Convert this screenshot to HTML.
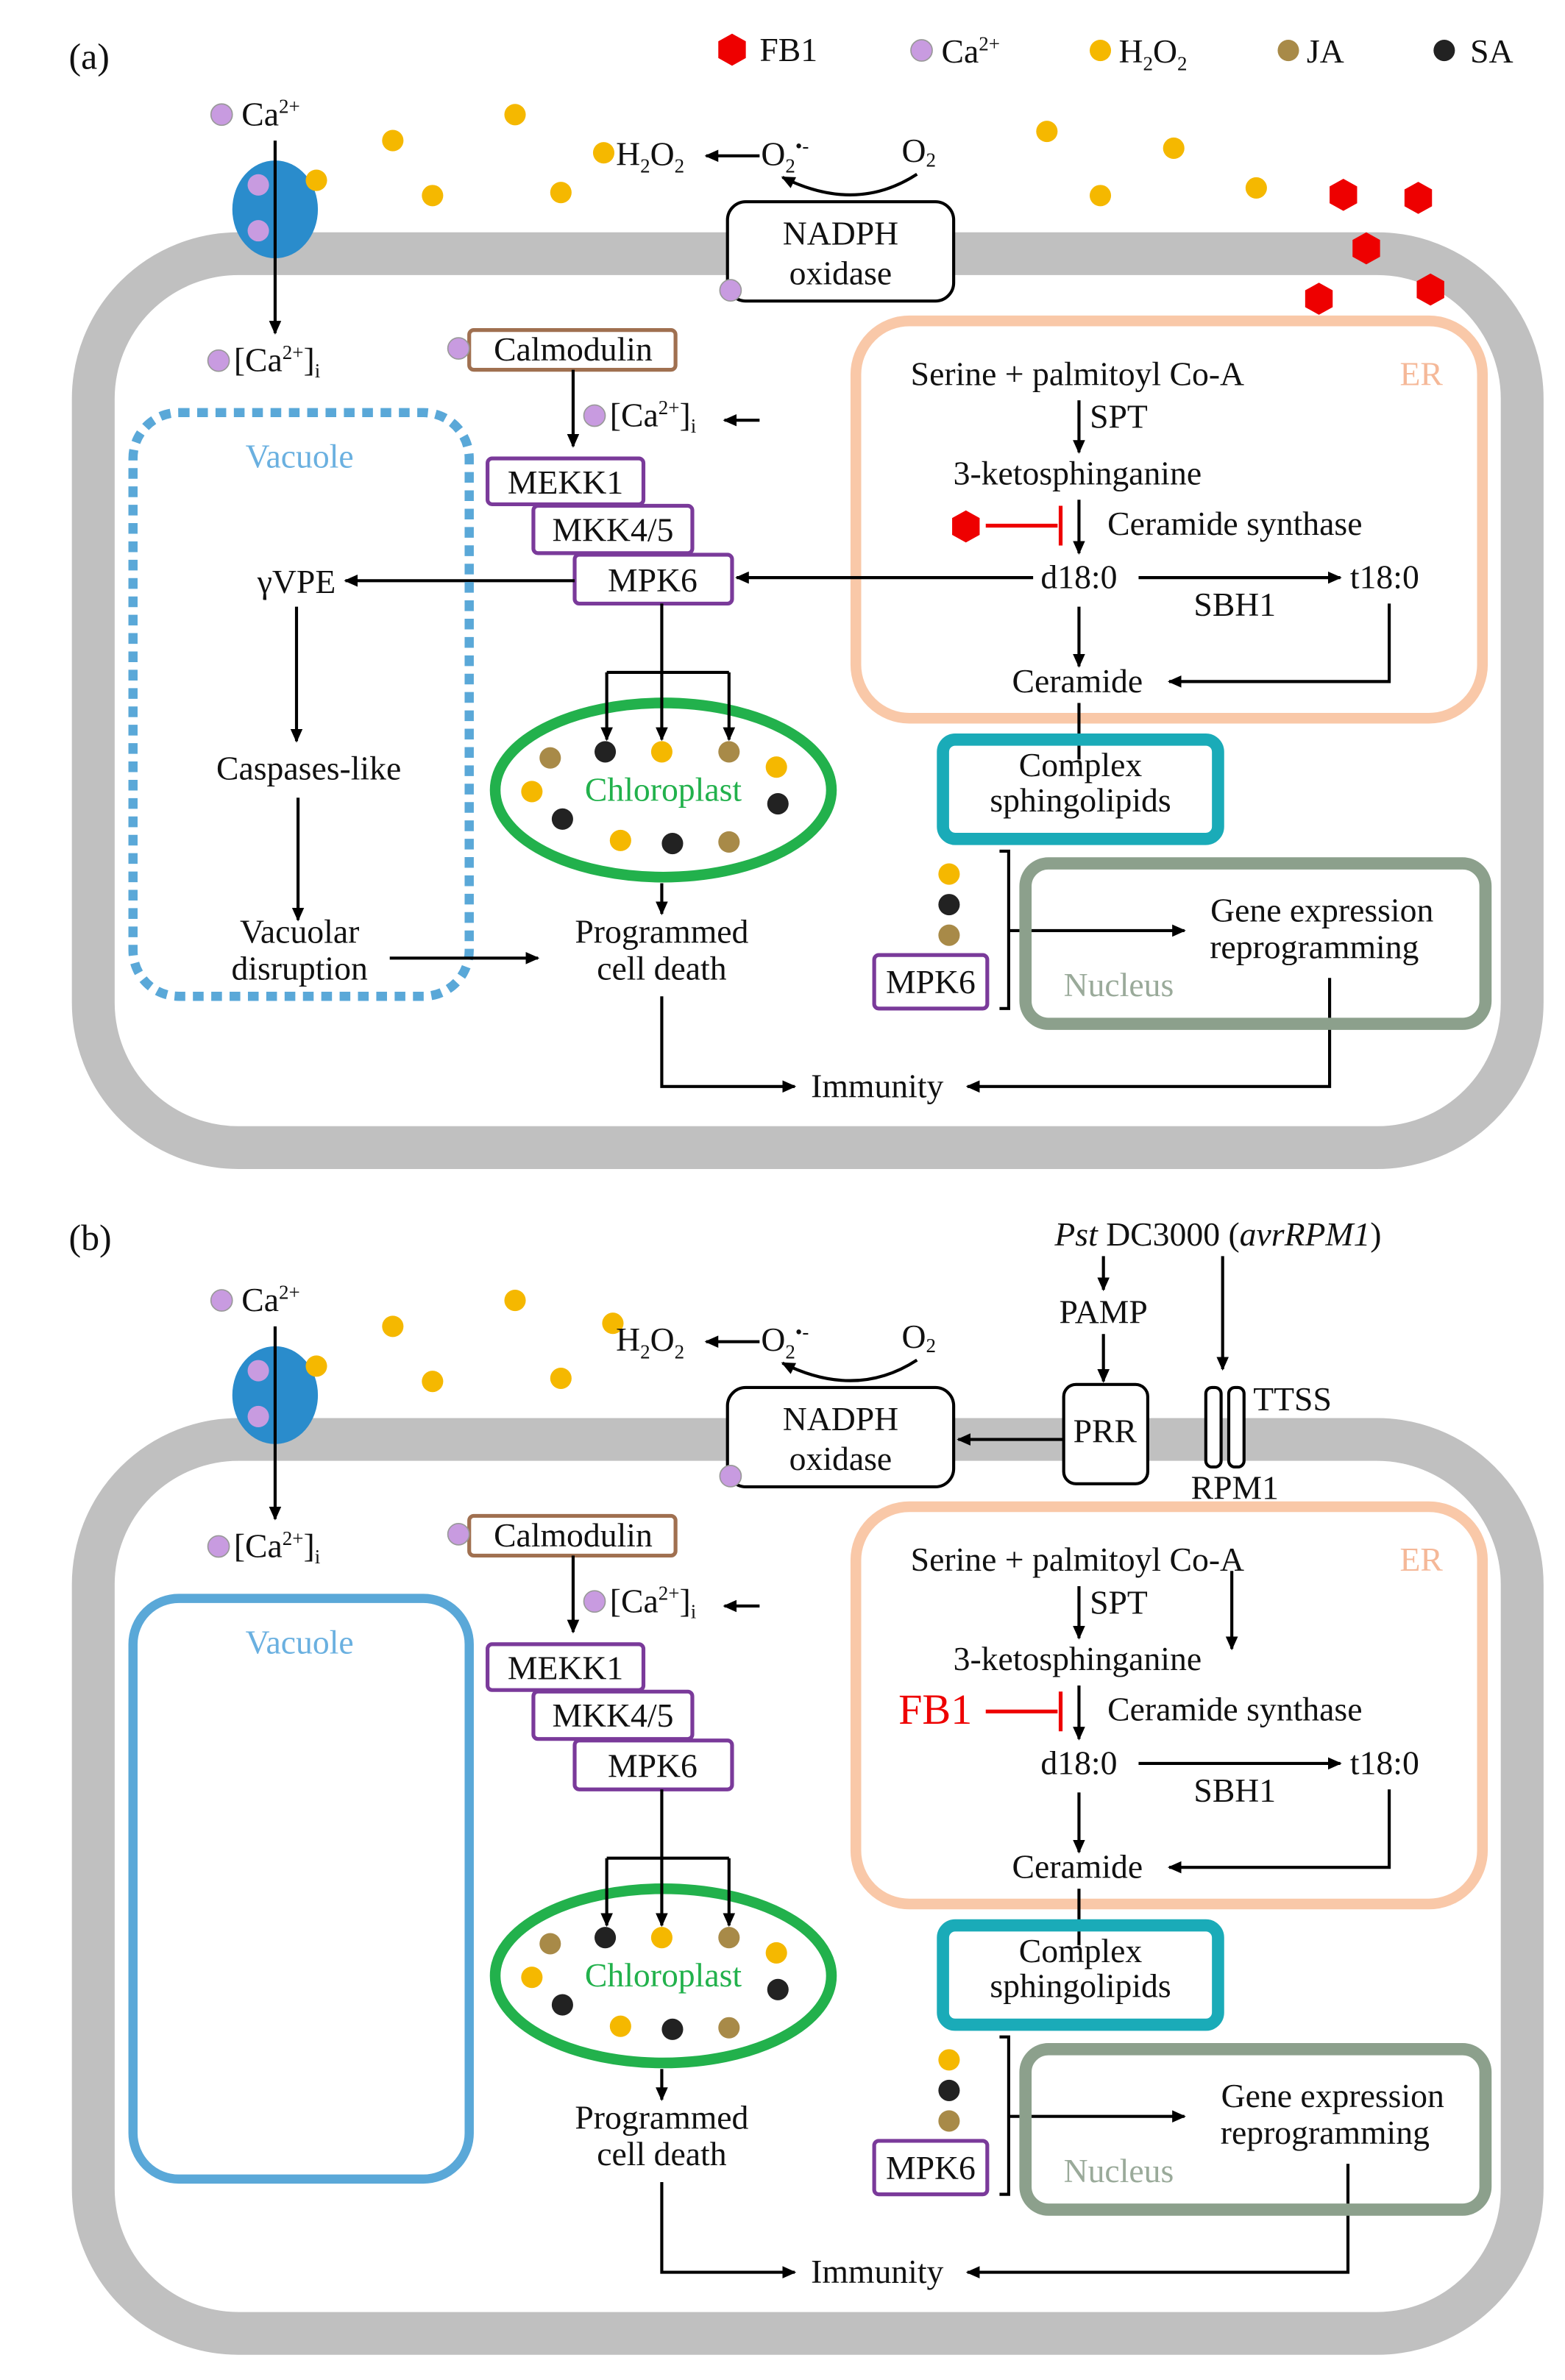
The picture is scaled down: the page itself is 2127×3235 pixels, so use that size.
<!DOCTYPE html>
<html><head><meta charset="utf-8"><style>
html,body{margin:0;padding:0;background:#fff}
svg{display:block}
text{font-family:"Liberation Serif",serif;font-size:22px;fill:#111}
.m{text-anchor:middle}
</style></head><body>
<svg width="2127" height="3235" viewBox="0 0 1024 1557.5" xmlns="http://www.w3.org/2000/svg">
<defs>
<marker id="ah" markerWidth="10" markerHeight="10" refX="8" refY="5" orient="auto" markerUnits="userSpaceOnUse"><path d="M0,1 L9,5 L0,9 Z" fill="#000"/></marker>
</defs>

<!-- ===== PANEL A ===== -->
<text x="45" y="45" font-size="24" style="font-size:24px">(a)</text>
<polygon points="479,22 488,27 488,38 479,43 470,38 470,27" fill="#e00"/>
<text x="497" y="40">FB1</text>
<circle cx="603" cy="33" r="7" fill="#c89be0" stroke="#999" stroke-width="0.8"/>
<text x="616" y="41">Ca<tspan font-size="13" dy="-8" style="font-size:13px">2+</tspan></text>
<circle cx="720" cy="33" r="7" fill="#f5b800"/>
<text x="732" y="41">H<tspan style="font-size:13px" dy="5">2</tspan><tspan dy="-5">O</tspan><tspan style="font-size:13px" dy="5">2</tspan></text>
<circle cx="843" cy="33" r="7" fill="#a88a48"/>
<text x="855" y="41">JA</text>
<circle cx="945" cy="33" r="7" fill="#222"/>
<text x="962" y="41">SA</text>

<g>
<rect x="61" y="166" width="935" height="585" rx="95" fill="#fff" stroke="#c0c0c0" stroke-width="28"/>
<circle cx="145" cy="75" r="7" fill="#c89be0" stroke="#999" stroke-width="0.8"/>
<text x="158" y="82">Ca<tspan style="font-size:13px" dy="-8">2+</tspan></text>
<ellipse cx="180" cy="137" rx="28" ry="32" fill="#2a8ccc"/>
<circle cx="169" cy="121" r="7" fill="#c89be0"/>
<circle cx="169" cy="151" r="7" fill="#c89be0"/>
<circle cx="207" cy="118" r="7" fill="#f5b800"/>
<line x1="180" y1="92" x2="180" y2="218" stroke="#000" stroke-width="2" marker-end="url(#ah)"/>
<circle cx="143" cy="236" r="7" fill="#c89be0" stroke="#999" stroke-width="0.8"/>
<text x="153" y="243">[Ca<tspan style="font-size:13px" dy="-8">2+</tspan><tspan dy="8">]</tspan><tspan style="font-size:13px" dy="4">i</tspan></text>
<g fill="#f5b800"><circle cx="257" cy="92" r="7"/><circle cx="337" cy="75" r="7"/><circle cx="283" cy="128" r="7"/><circle cx="367" cy="126" r="7"/><circle cx="395" cy="100" r="7"/></g>
<text x="403" y="108">H<tspan style="font-size:13px" dy="5">2</tspan><tspan dy="-5">O</tspan><tspan style="font-size:13px" dy="5">2</tspan></text>
<line x1="497" y1="102" x2="462" y2="102" stroke="#000" stroke-width="2" marker-end="url(#ah)"/>
<text x="498" y="108">O<tspan style="font-size:13px" dy="5">2</tspan><tspan style="font-size:13px" dy="-13">•-</tspan></text>
<text x="590" y="106">O<tspan style="font-size:13px" dy="3">2</tspan></text>
<path d="M600,114 Q560,140 512,116" fill="none" stroke="#000" stroke-width="2" marker-end="url(#ah)"/>
<rect x="476" y="132" width="148" height="65" rx="12" fill="#fff" stroke="#000" stroke-width="2"/>
<text x="550" y="160" class="m">NADPH</text><text x="550" y="186" class="m">oxidase</text>
<circle cx="478" cy="190" r="7" fill="#c89be0" stroke="#999" stroke-width="0.8"/>
<rect x="307" y="216" width="135" height="26" rx="3" fill="#fff" stroke="#a07050" stroke-width="2.5"/>
<circle cx="300" cy="228" r="7" fill="#c89be0" stroke="#999" stroke-width="0.8"/>
<text x="375" y="236" class="m">Calmodulin</text>
<line x1="375" y1="242" x2="375" y2="292" stroke="#000" stroke-width="2" marker-end="url(#ah)"/>
<circle cx="389" cy="272" r="7" fill="#c89be0" stroke="#999" stroke-width="0.8"/>
<text x="399" y="279">[Ca<tspan style="font-size:13px" dy="-8">2+</tspan><tspan dy="8">]</tspan><tspan style="font-size:13px" dy="4">i</tspan></text>
<line x1="497" y1="275" x2="474" y2="275" stroke="#000" stroke-width="2" marker-end="url(#ah)"/>
<g fill="#fff" stroke="#7a3a9a" stroke-width="2.5">
<rect x="319" y="300" width="102" height="30" rx="3"/><rect x="349" y="331" width="104" height="31" rx="3"/><rect x="376" y="363" width="103" height="32" rx="3"/></g>
<text x="370" y="323" class="m">MEKK1</text><text x="401" y="354" class="m">MKK4/5</text><text x="427" y="387" class="m">MPK6</text>
<ellipse cx="434" cy="517" rx="110" ry="57" fill="#fff" stroke="#22b14c" stroke-width="7"/>
<path d="M433,395 V440 M397,440 H477" stroke="#000" stroke-width="2" fill="none"/>
<g stroke="#000" stroke-width="2" marker-end="url(#ah)"><line x1="397" y1="440" x2="397" y2="484"/><line x1="433" y1="440" x2="433" y2="484"/><line x1="477" y1="440" x2="477" y2="484"/></g>
<circle cx="360" cy="496" r="7" fill="#a88a48"/><circle cx="396" cy="492" r="7" fill="#222"/><circle cx="433" cy="492" r="7" fill="#f5b800"/><circle cx="477" cy="492" r="7" fill="#a88a48"/><circle cx="508" cy="502" r="7" fill="#f5b800"/><circle cx="348" cy="518" r="7" fill="#f5b800"/><circle cx="509" cy="526" r="7" fill="#222"/><circle cx="368" cy="536" r="7" fill="#222"/><circle cx="406" cy="550" r="7" fill="#f5b800"/><circle cx="440" cy="552" r="7" fill="#222"/><circle cx="477" cy="551" r="7" fill="#a88a48"/>
<text x="434" y="524" class="m" style="fill:#22b14c">Chloroplast</text>
<line x1="433" y1="578" x2="433" y2="598" stroke="#000" stroke-width="2" marker-end="url(#ah)"/>
<text x="433" y="617" class="m">Programmed</text><text x="433" y="641" class="m">cell death</text>
<path d="M433,652 V711 H520" fill="none" stroke="#000" stroke-width="2" marker-end="url(#ah)"/>
<text x="574" y="718" class="m">Immunity</text>
<path d="M870,640 V711 H633" fill="none" stroke="#000" stroke-width="2" marker-end="url(#ah)"/>
<rect x="560" y="210" width="410" height="260" rx="35" fill="none" stroke="#f9c8a8" stroke-width="7"/>
<text x="930" y="252" class="m" style="fill:#f5b898">ER</text>
<text x="705" y="252" class="m">Serine + palmitoyl  Co-A</text>
<line x1="706" y1="262" x2="706" y2="296" stroke="#000" stroke-width="2" marker-end="url(#ah)"/>
<text x="732" y="280" class="m">SPT</text>
<text x="705" y="317" class="m">3-ketosphinganine</text>
<line x1="706" y1="327" x2="706" y2="362" stroke="#000" stroke-width="2" marker-end="url(#ah)"/>
<text x="808" y="350" class="m">Ceramide synthase</text>
<text x="706" y="385" class="m">d18:0</text>
<line x1="745" y1="378" x2="877" y2="378" stroke="#000" stroke-width="2" marker-end="url(#ah)"/>
<text x="808" y="403" class="m">SBH1</text>
<text x="906" y="385" class="m">t18:0</text>
<path d="M909,395 V446 H765" fill="none" stroke="#000" stroke-width="2" marker-end="url(#ah)"/>
<line x1="706" y1="397" x2="706" y2="436" stroke="#000" stroke-width="2" marker-end="url(#ah)"/>
<text x="705" y="453" class="m">Ceramide</text>
<line x1="706" y1="460" x2="706" y2="497" stroke="#000" stroke-width="2"/>
<rect x="617" y="484" width="180" height="65" rx="8" fill="none" stroke="#1aabb8" stroke-width="8"/>
<text x="707" y="508" class="m">Complex</text><text x="707" y="531" class="m">sphingolipids</text>
<circle cx="621" cy="572" r="7" fill="#f5b800"/><circle cx="621" cy="592" r="7" fill="#222"/><circle cx="621" cy="612" r="7" fill="#a88a48"/>
<rect x="572" y="625" width="74" height="35" rx="3" fill="#fff" stroke="#7a3a9a" stroke-width="2.5"/>
<text x="609" y="650" class="m">MPK6</text>
<path d="M654,557 H660 V660 H654" fill="none" stroke="#000" stroke-width="2"/>
<line x1="660" y1="609" x2="775" y2="609" stroke="#000" stroke-width="2" marker-end="url(#ah)"/>
<rect x="671" y="565" width="301" height="105" rx="15" fill="none" stroke="#8ca08c" stroke-width="8"/>
<text x="865" y="603" class="m">Gene expression</text><text x="860" y="627" class="m">reprogramming</text>
<text x="732" y="652" class="m" style="fill:#9aaa9a">Nucleus</text>
</g>
<g fill="#f5b800"><circle cx="685" cy="86" r="7"/><circle cx="768" cy="97" r="7"/><circle cx="720" cy="128" r="7"/><circle cx="822" cy="123" r="7"/></g>
<g fill="#e00">
<polygon points="879,117 888,122 888,133 879,138 870,133 870,122"/>
<polygon points="928,119 937,124 937,135 928,140 919,135 919,124"/>
<polygon points="894,152 903,157 903,168 894,173 885,168 885,157"/>
<polygon points="863,185 872,190 872,201 863,206 854,201 854,190"/>
<polygon points="936,179 945,184 945,195 936,200 927,195 927,184"/>
<polygon points="632,334 641,339 641,350 632,355 623,350 623,339"/></g>
<path d="M645,344 H692 M694,331 V357" stroke="#e00" stroke-width="2.5"/>
<line x1="676" y1="378" x2="482" y2="378" stroke="#000" stroke-width="2" marker-end="url(#ah)"/>
<line x1="376" y1="380" x2="226" y2="380" stroke="#000" stroke-width="2" marker-end="url(#ah)"/>
<rect x="87" y="270" width="220" height="382" rx="30" fill="none" stroke="#5aa8d8" stroke-width="6" stroke-dasharray="7,5"/>
<text x="196" y="306" class="m" style="fill:#6ab0e0">Vacuole</text>
<text x="194" y="388" class="m">γVPE</text>
<line x1="194" y1="397" x2="194" y2="485" stroke="#000" stroke-width="2" marker-end="url(#ah)"/>
<text x="202" y="510" class="m">Caspases-like</text>
<line x1="195" y1="522" x2="195" y2="602" stroke="#000" stroke-width="2" marker-end="url(#ah)"/>
<text x="196" y="617" class="m">Vacuolar</text><text x="196" y="641" class="m">disruption</text>
<line x1="255" y1="627" x2="352" y2="627" stroke="#000" stroke-width="2" marker-end="url(#ah)"/>

<!-- ===== PANEL B ===== -->
<text x="45" y="818" style="font-size:24px">(b)</text>
<g transform="translate(0,776)">
<rect x="61" y="166" width="935" height="585" rx="95" fill="#fff" stroke="#c0c0c0" stroke-width="28"/>
<circle cx="145" cy="75" r="7" fill="#c89be0" stroke="#999" stroke-width="0.8"/>
<text x="158" y="82">Ca<tspan style="font-size:13px" dy="-8">2+</tspan></text>
<ellipse cx="180" cy="137" rx="28" ry="32" fill="#2a8ccc"/>
<circle cx="169" cy="121" r="7" fill="#c89be0"/><circle cx="169" cy="151" r="7" fill="#c89be0"/><circle cx="207" cy="118" r="7" fill="#f5b800"/>
<line x1="180" y1="92" x2="180" y2="218" stroke="#000" stroke-width="2" marker-end="url(#ah)"/>
<circle cx="143" cy="236" r="7" fill="#c89be0" stroke="#999" stroke-width="0.8"/>
<text x="153" y="243">[Ca<tspan style="font-size:13px" dy="-8">2+</tspan><tspan dy="8">]</tspan><tspan style="font-size:13px" dy="4">i</tspan></text>
<g fill="#f5b800"><circle cx="257" cy="92" r="7"/><circle cx="337" cy="75" r="7"/><circle cx="283" cy="128" r="7"/><circle cx="367" cy="126" r="7"/><circle cx="401" cy="90" r="7"/></g>
<text x="403" y="108">H<tspan style="font-size:13px" dy="5">2</tspan><tspan dy="-5">O</tspan><tspan style="font-size:13px" dy="5">2</tspan></text>
<line x1="497" y1="102" x2="462" y2="102" stroke="#000" stroke-width="2" marker-end="url(#ah)"/>
<text x="498" y="108">O<tspan style="font-size:13px" dy="5">2</tspan><tspan style="font-size:13px" dy="-13">•-</tspan></text>
<text x="590" y="106">O<tspan style="font-size:13px" dy="3">2</tspan></text>
<path d="M600,114 Q560,140 512,116" fill="none" stroke="#000" stroke-width="2" marker-end="url(#ah)"/>
<rect x="476" y="132" width="148" height="65" rx="12" fill="#fff" stroke="#000" stroke-width="2"/>
<text x="550" y="160" class="m">NADPH</text><text x="550" y="186" class="m">oxidase</text>
<circle cx="478" cy="190" r="7" fill="#c89be0" stroke="#999" stroke-width="0.8"/>
<text x="797" y="39" class="m"><tspan font-style="italic">Pst</tspan> DC3000 (<tspan font-style="italic">avrRPM1</tspan>)</text>
<line x1="722" y1="46" x2="722" y2="68" stroke="#000" stroke-width="2" marker-end="url(#ah)"/>
<text x="722" y="90" class="m">PAMP</text>
<line x1="722" y1="97" x2="722" y2="128" stroke="#000" stroke-width="2" marker-end="url(#ah)"/>
<rect x="696" y="130" width="55" height="65" rx="8" fill="#fff" stroke="#000" stroke-width="2"/>
<text x="723" y="168" class="m">PRR</text>
<line x1="696" y1="166" x2="627" y2="166" stroke="#000" stroke-width="2" marker-end="url(#ah)"/>
<line x1="800" y1="46" x2="800" y2="120" stroke="#000" stroke-width="2" marker-end="url(#ah)"/>
<rect x="789" y="132" width="10" height="52" rx="4" fill="#fff" stroke="#000" stroke-width="2"/>
<rect x="804" y="132" width="10" height="52" rx="4" fill="#fff" stroke="#000" stroke-width="2"/>
<text x="820" y="147">TTSS</text>
<text x="808" y="205" class="m">RPM1</text>
<line x1="806" y1="252" x2="806" y2="303" stroke="#000" stroke-width="2" marker-end="url(#ah)"/>
<rect x="307" y="216" width="135" height="26" rx="3" fill="#fff" stroke="#a07050" stroke-width="2.5"/>
<circle cx="300" cy="228" r="7" fill="#c89be0" stroke="#999" stroke-width="0.8"/>
<text x="375" y="236" class="m">Calmodulin</text>
<line x1="375" y1="242" x2="375" y2="292" stroke="#000" stroke-width="2" marker-end="url(#ah)"/>
<circle cx="389" cy="272" r="7" fill="#c89be0" stroke="#999" stroke-width="0.8"/>
<text x="399" y="279">[Ca<tspan style="font-size:13px" dy="-8">2+</tspan><tspan dy="8">]</tspan><tspan style="font-size:13px" dy="4">i</tspan></text>
<line x1="497" y1="275" x2="474" y2="275" stroke="#000" stroke-width="2" marker-end="url(#ah)"/>
<g fill="#fff" stroke="#7a3a9a" stroke-width="2.5">
<rect x="319" y="300" width="102" height="30" rx="3"/><rect x="349" y="331" width="104" height="31" rx="3"/><rect x="376" y="363" width="103" height="32" rx="3"/></g>
<text x="370" y="323" class="m">MEKK1</text><text x="401" y="354" class="m">MKK4/5</text><text x="427" y="387" class="m">MPK6</text>
<rect x="87" y="270" width="220" height="380" rx="30" fill="none" stroke="#5aa8d8" stroke-width="6"/>
<text x="196" y="306" class="m" style="fill:#6ab0e0">Vacuole</text>
<ellipse cx="434" cy="517" rx="110" ry="57" fill="#fff" stroke="#22b14c" stroke-width="7"/>
<path d="M433,395 V440 M397,440 H477" stroke="#000" stroke-width="2" fill="none"/>
<g stroke="#000" stroke-width="2" marker-end="url(#ah)"><line x1="397" y1="440" x2="397" y2="484"/><line x1="433" y1="440" x2="433" y2="484"/><line x1="477" y1="440" x2="477" y2="484"/></g>
<circle cx="360" cy="496" r="7" fill="#a88a48"/><circle cx="396" cy="492" r="7" fill="#222"/><circle cx="433" cy="492" r="7" fill="#f5b800"/><circle cx="477" cy="492" r="7" fill="#a88a48"/><circle cx="508" cy="502" r="7" fill="#f5b800"/><circle cx="348" cy="518" r="7" fill="#f5b800"/><circle cx="509" cy="526" r="7" fill="#222"/><circle cx="368" cy="536" r="7" fill="#222"/><circle cx="406" cy="550" r="7" fill="#f5b800"/><circle cx="440" cy="552" r="7" fill="#222"/><circle cx="477" cy="551" r="7" fill="#a88a48"/>
<text x="434" y="524" class="m" style="fill:#22b14c">Chloroplast</text>
<line x1="433" y1="578" x2="433" y2="598" stroke="#000" stroke-width="2" marker-end="url(#ah)"/>
<text x="433" y="617" class="m">Programmed</text><text x="433" y="641" class="m">cell death</text>
<path d="M433,652 V711 H520" fill="none" stroke="#000" stroke-width="2" marker-end="url(#ah)"/>
<text x="574" y="718" class="m">Immunity</text>
<path d="M882,640 V711 H633" fill="none" stroke="#000" stroke-width="2" marker-end="url(#ah)"/>
<rect x="560" y="210" width="410" height="260" rx="35" fill="none" stroke="#f9c8a8" stroke-width="7"/>
<text x="930" y="252" class="m" style="fill:#f5b898">ER</text>
<text x="705" y="252" class="m">Serine + palmitoyl  Co-A</text>
<line x1="706" y1="262" x2="706" y2="296" stroke="#000" stroke-width="2" marker-end="url(#ah)"/>
<text x="732" y="280" class="m">SPT</text>
<text x="705" y="317" class="m">3-ketosphinganine</text>
<line x1="706" y1="327" x2="706" y2="362" stroke="#000" stroke-width="2" marker-end="url(#ah)"/>
<text x="612" y="352" class="m" style="fill:#e00;font-size:28px">FB1</text>
<path d="M645,344 H692 M694,331 V357" stroke="#e00" stroke-width="2.5"/>
<text x="808" y="350" class="m">Ceramide synthase</text>
<text x="706" y="385" class="m">d18:0</text>
<line x1="745" y1="378" x2="877" y2="378" stroke="#000" stroke-width="2" marker-end="url(#ah)"/>
<text x="808" y="403" class="m">SBH1</text>
<text x="906" y="385" class="m">t18:0</text>
<path d="M909,395 V446 H765" fill="none" stroke="#000" stroke-width="2" marker-end="url(#ah)"/>
<line x1="706" y1="397" x2="706" y2="436" stroke="#000" stroke-width="2" marker-end="url(#ah)"/>
<text x="705" y="453" class="m">Ceramide</text>
<line x1="706" y1="460" x2="706" y2="497" stroke="#000" stroke-width="2"/>
<rect x="617" y="484" width="180" height="65" rx="8" fill="none" stroke="#1aabb8" stroke-width="8"/>
<text x="707" y="508" class="m">Complex</text><text x="707" y="531" class="m">sphingolipids</text>
<circle cx="621" cy="572" r="7" fill="#f5b800"/><circle cx="621" cy="592" r="7" fill="#222"/><circle cx="621" cy="612" r="7" fill="#a88a48"/>
<rect x="572" y="625" width="74" height="35" rx="3" fill="#fff" stroke="#7a3a9a" stroke-width="2.5"/>
<text x="609" y="650" class="m">MPK6</text>
<path d="M654,557 H660 V660 H654" fill="none" stroke="#000" stroke-width="2"/>
<line x1="660" y1="609" x2="775" y2="609" stroke="#000" stroke-width="2" marker-end="url(#ah)"/>
<rect x="671" y="565" width="301" height="105" rx="15" fill="none" stroke="#8ca08c" stroke-width="8"/>
<text x="872" y="603" class="m">Gene expression</text><text x="867" y="627" class="m">reprogramming</text>
<text x="732" y="652" class="m" style="fill:#9aaa9a">Nucleus</text>
</g>
</svg>
</body></html>
